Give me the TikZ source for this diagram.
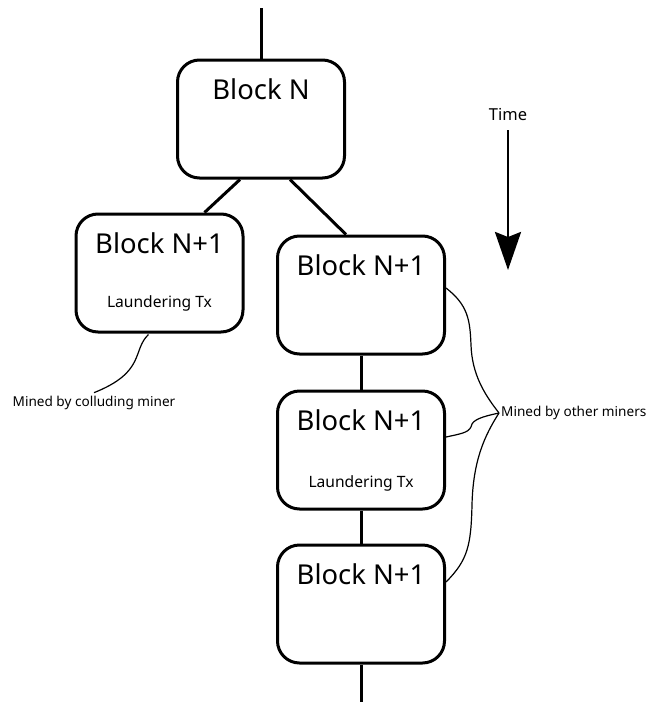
\documentclass[tikz,border=0pt]{standalone}
\usepackage{fontspec}
\setmainfont{Noto Sans}
\usetikzlibrary{arrows.meta}
\begin{document}
\begin{tikzpicture}[x=1pt,y=-1pt,
                block/.style={draw,line width=3pt,rounded corners=22pt,minimum width=167pt,minimum height=118pt},
                title/.style={anchor=base,yshift=-40.5pt,font=\fontsize{27.4}{32}\selectfont},
                tx/.style={anchor=base,font=\fontsize{15.6}{18}\selectfont},
                link/.style={line width=3pt},
                note/.style={line width=1.2pt},
                small/.style={font=\fontsize{13.6}{16}\selectfont}]
                \useasboundingbox(0,0)rectangle(653,702);
                \node[block,label={[title]north:Block N}](1)at(261,119){};
                \node[block,label={[title]north:Block N+1},
                      label={[tx,yshift=-95pt]north:Laundering Tx}](2)at(159.5,273){};
                \node[block,label={[title]north:Block N+1}](3)at(361,295){};
                \node[block,label={[title]north:Block N+1},
                      label={[tx,yshift=-98pt]north:Laundering Tx}](4)at(361,450){};
                \node[block,label={[title]north:Block N+1}](5)at(361,604){};
                \coordinate(top)at(261,8);
                \coordinate(bot)at(361,702);
                \draw[link](top)--(1);
                \draw[link]([xshift=-21pt]1.south)--([xshift=45pt]2.north);
                \draw[link]([xshift=29pt]1.south)--([xshift=-15pt]3.north);
                \draw[link](3)--(4);
                \draw[link](4)--(5);
                \draw[link](5)--(bot);
                % time axis
                \node[font=\fontsize{16.5}{19}\selectfont](t)at(508,114){Time};
                \coordinate(t2)at(508,270);
                \draw[line width=2.7pt,-{Stealth[length=38pt,width=26pt,inset=5pt]}](508,130)--(t2);
                % annotations
                \node[small](col)at(94,403){Mined by colluding miner};
                \node[small,anchor=west,inner sep=2pt](oth)at(499,413){Mined by other miners};
                \draw[note]([xshift=-11pt,yshift=-1pt]2.south)..controls(132,350)and(146,372)..(col.north);
                \draw[note]([yshift=7pt]3.east)..controls(468,305)and(470,320)..(471,345)..controls(472,375)and(485,395)..(oth.west);
                \draw[note]([yshift=13pt]4.east)..controls(465,433)and(470,432)..(472,424)..controls(475,418)and(490,415)..(oth.west);
                \draw[note]([yshift=22pt]5.east)..controls(468,560)and(471,545)..(472,505)..controls(473,460)and(485,435)..(oth.west);
            \end{tikzpicture}
\end{document}
